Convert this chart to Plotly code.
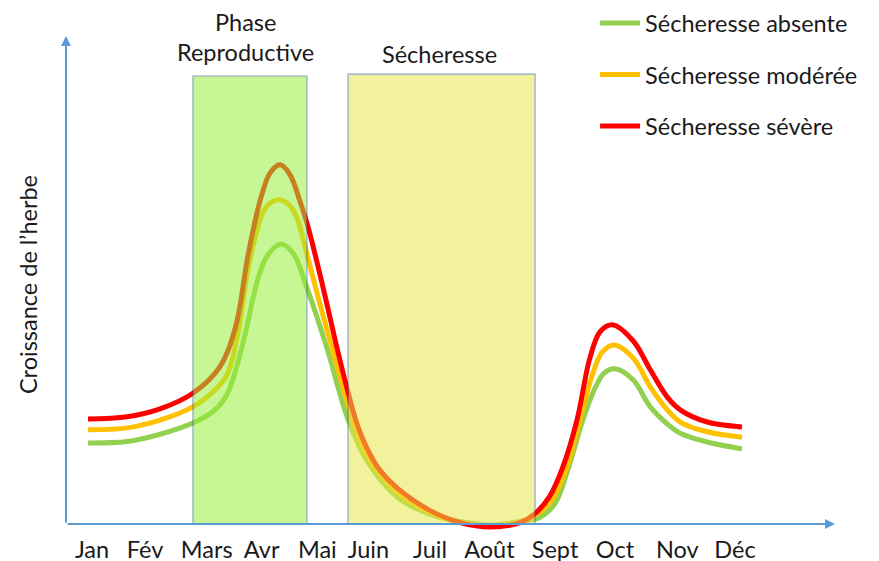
import plotly.graph_objects as go

# Month labels and where they sit along the year axis (in months from January)
month_labels = ["Jan", "Fév", "Mars", "Avr", "Mai", "Juin", "Juil", "Août", "Sept", "Oct", "Nov", "Déc"]
month_pos = [0.0, 0.904, 1.956, 2.893, 3.843, 4.713, 5.764, 6.777, 7.896, 8.919, 9.981, 10.964]

# Grass growth curves (relative units, 0-100)
x_absente = [-0.068, 0.60, 1.16, 1.72, 2.06, 2.30, 2.575, 2.81, 2.98, 3.22, 3.43, 3.66,
             4.00, 4.37, 4.69, 5.20, 5.76, 6.28, 6.79, 7.30, 7.64, 7.90, 8.13, 8.37,
             8.58, 8.73, 8.92, 9.23, 9.52, 9.81, 10.03, 10.49, 11.084]
y_absente = [16.6, 16.9, 18.4, 20.7, 23.0, 26.5, 37.1, 49.4, 54.8, 57.4, 55.5, 48.6,
             36.3, 21.3, 13.0, 5.6, 2.0, 0.5, -0.2, 0.5, 1.4, 4.3, 11.7, 21.3,
             27.9, 30.9, 31.8, 29.5, 24.0, 20.5, 18.6, 16.8, 15.4]

x_moderee = [-0.068, 0.60, 1.16, 1.72, 2.10, 2.30, 2.47, 2.69, 2.92, 3.07, 3.21, 3.36,
             3.49, 3.66, 3.89, 4.09, 4.37, 4.69, 5.20, 5.76, 6.28, 6.79, 7.30, 7.56,
             7.84, 8.08, 8.32, 8.53, 8.70, 8.90, 9.23, 9.52, 9.81, 10.03, 10.49, 11.084]
y_moderee = [19.3, 19.7, 21.3, 24.0, 27.5, 30.5, 38.0, 54.0, 64.0, 66.0, 66.4, 65.4,
             62.9, 55.5, 44.9, 36.3, 24.4, 14.1, 6.6, 2.4, 0.3, -0.4, 0.4, 1.8,
             4.9, 11.1, 21.3, 30.5, 35.2, 36.7, 34.0, 28.1, 23.4, 20.9, 18.9, 17.8]

x_severe = [-0.068, 0.60, 1.16, 1.72, 2.18, 2.45, 2.66, 2.87, 3.04, 3.21, 3.38, 3.55,
            3.67, 3.92, 4.16, 4.37, 4.52, 4.69, 4.91, 5.20, 5.76, 6.28, 6.79, 7.30,
            7.56, 7.81, 8.03, 8.27, 8.49, 8.67, 8.885, 9.23, 9.52, 9.81, 10.03,
            10.49, 11.084]
y_severe = [21.5, 22.0, 23.6, 26.8, 32.2, 40.5, 55.0, 66.4, 72.0, 73.6, 71.5, 66.0,
            61.5, 49.5, 37.0, 26.8, 20.5, 15.5, 11.0, 7.4, 2.8, 0.3, -0.6, 0.3,
            2.2, 5.8, 11.7, 21.3, 34.0, 39.5, 40.8, 37.5, 31.6, 26.0, 23.4,
            20.9, 19.9]

# Highlighted periods: [start, end] in months, with their top level
phase_repro = [1.722, 3.666]
phase_repro_top = 91.8
phase_secheresse = [4.366, 7.555]
phase_secheresse_top = 92.2

X_RANGE = [-0.4434, 12.67]
Y_RANGE = [-1.84, 100]

FONT = "Lato, 'Open Sans', sans-serif"
FS = 23.5
TEXT = "#1a1a1a"
AXIS = "#5B9BD5"

fig = go.Figure()

series = [
    ("Sécheresse absente", x_absente, y_absente, "#92D050"),
    ("Sécheresse modérée", x_moderee, y_moderee, "#FFC000"),
    ("Sécheresse sévère", x_severe, y_severe, "#FF0000"),
]
for name, xs, ys, col in series:
    fig.add_trace(go.Scatter(
        x=xs, y=ys, name=name, mode="lines", legendgroup=name,
        line=dict(color=col, width=5, shape="spline", smoothing=1.0),
        hoverinfo="skip",
    ))

# Translucent phase rectangles drawn over the curves
fig.add_shape(type="rect", xref="x", yref="y",
              x0=phase_repro[0], x1=phase_repro[1], y0=0, y1=phase_repro_top,
              fillcolor="rgb(151,241,57)", opacity=0.53, layer="above",
              line=dict(color="#2F5597", width=1.2))
fig.add_shape(type="rect", xref="x", yref="y",
              x0=phase_secheresse[0], x1=phase_secheresse[1], y0=0, y1=phase_secheresse_top,
              fillcolor="rgb(231,231,72)", opacity=0.53, layer="above",
              line=dict(color="#2F5597", width=1.2))

# Axis arrows
fig.add_annotation(x=X_RANGE[1], y=0, ax=X_RANGE[0], ay=0, xref="x", yref="y",
                   axref="x", ayref="y", showarrow=True, arrowhead=2, arrowsize=1,
                   arrowwidth=2, arrowcolor=AXIS, text="")
fig.add_annotation(x=X_RANGE[0], y=Y_RANGE[1], ax=X_RANGE[0], ay=0, xref="x", yref="y",
                   axref="x", ayref="y", showarrow=True, arrowhead=2, arrowsize=1,
                   arrowwidth=2, arrowcolor=AXIS, text="")

# Phase labels
label_font = dict(family=FONT, size=FS, color=TEXT)
fig.add_annotation(x=sum(phase_repro) / 2 - 0.08, y=1.028, xref="x", yref="paper",
                   text="Phase", showarrow=False, yanchor="middle", font=label_font)
fig.add_annotation(x=sum(phase_repro) / 2 - 0.08, y=0.968, xref="x", yref="paper",
                   text="Reproductive", showarrow=False, yanchor="middle", font=label_font)
fig.add_annotation(x=sum(phase_secheresse) / 2 - 0.04, y=0.964, xref="x", yref="paper",
                   text="Sécheresse", showarrow=False, yanchor="middle", font=label_font)

fig.update_layout(
    width=879, height=561,
    margin=dict(l=66, r=44, t=36, b=28, autoexpand=False),
    paper_bgcolor="white", plot_bgcolor="white",
    font=dict(family=FONT, size=FS, color=TEXT),
    showlegend=True,
    legend=dict(x=0.688, y=1.070, xanchor="left", yanchor="top",
                bgcolor="rgba(0,0,0,0)", tracegroupgap=18, itemwidth=40,
                font=dict(family=FONT, size=FS, color=TEXT)),
    xaxis=dict(range=X_RANGE, showgrid=False, zeroline=False, showline=False,
               tickmode="array", tickvals=month_pos, ticktext=month_labels,
               ticks="", tickfont=dict(family=FONT, size=FS, color=TEXT),
               automargin=False, fixedrange=True),
    yaxis=dict(range=Y_RANGE, showgrid=False, zeroline=False, showline=False,
               showticklabels=False, ticks="", automargin=False,
               title=dict(text="Croissance de l’herbe", standoff=20,
                          font=dict(family=FONT, size=FS, color=TEXT)),
               fixedrange=True),
)

fig.write_html("out.html")
